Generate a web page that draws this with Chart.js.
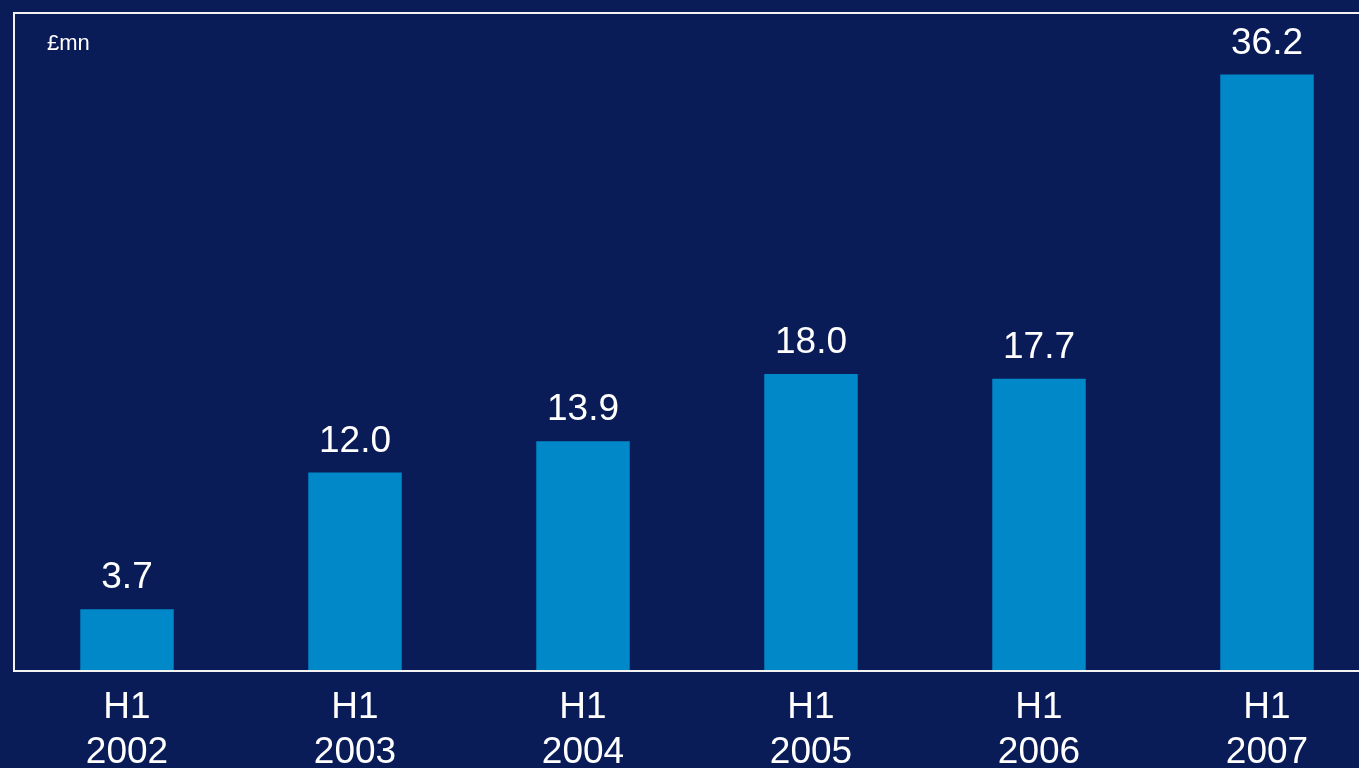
<!DOCTYPE html>
<html>
<head>
<meta charset="utf-8">
<title>H1 results</title>
<script src="https://cdn.jsdelivr.net/npm/chart.js@4.4.1/dist/chart.umd.min.js"></script>
<style>
  html, body { margin: 0; padding: 0; background: #0a1c58; overflow: hidden; }
  #wrap { position: relative; width: 1400px; height: 768px; }
  #unit { position: absolute; left: 47px; top: 30px; color: #fff; font: 22px "Liberation Sans", Arial, sans-serif; }
</style>
</head>
<body>
<div id="wrap">
  <canvas id="resultsChart" width="1400" height="768"></canvas>
  <div id="unit">£mn</div>
</div>
<script>
// half-year figures, £mn
var periods = ['H1', 'H1', 'H1', 'H1', 'H1', 'H1'];
var years = ['2002', '2003', '2004', '2005', '2006', '2007'];
var values = [3.7, 12.0, 13.9, 18.0, 17.7, 36.2];
var yMax = 40;

var labels = periods.map(function(p, i) { return [p, years[i]]; });

// value above each bar
var valueLabels = {
  id: 'valueLabels',
  afterDatasetsDraw: function(chart) {
    var ctx = chart.ctx;
    var meta = chart.getDatasetMeta(0);
    ctx.save();
    ctx.fillStyle = '#ffffff';
    ctx.font = '37px "Liberation Sans", Arial, sans-serif';
    ctx.textAlign = 'center';
    ctx.textBaseline = 'alphabetic';
    meta.data.forEach(function(bar, i) {
      ctx.fillText(values[i].toFixed(1), bar.x, bar.y - 21);
    });
    ctx.restore();
  }
};

// white frame round the plot
var frame = {
  id: 'frame',
  afterDraw: function(chart) {
    var a = chart.chartArea;
    var ctx = chart.ctx;
    ctx.save();
    ctx.strokeStyle = '#f2f2f2';
    ctx.lineWidth = 2;
    ctx.strokeRect(a.left + 1, a.top + 1, a.right - a.left, a.bottom - a.top);
    ctx.restore();
  }
};

new Chart(document.getElementById('resultsChart'), {
  type: 'bar',
  data: {
    labels: labels,
    datasets: [{
      data: values,
      backgroundColor: '#0088c8',
      barPercentage: 0.41,
      categoryPercentage: 1
    }]
  },
  options: {
    responsive: false,
    animation: false,
    layout: { padding: { left: 13, top: 12, right: 19, bottom: 0 } },
    plugins: { legend: { display: false }, tooltip: { enabled: false } },
    scales: {
      x: {
        grid: { display: false, drawTicks: false },
        border: { display: false },
        ticks: {
          color: '#ffffff',
          padding: 16,
          maxRotation: 0,
          font: { family: '"Liberation Sans", Arial, sans-serif', size: 37, lineHeight: 1.2 }
        },
        afterFit: function(s) { s.height = 98; }
      },
      y: { display: false, min: 0, max: yMax }
    }
  },
  plugins: [valueLabels, frame]
});
</script>
</body>
</html>
